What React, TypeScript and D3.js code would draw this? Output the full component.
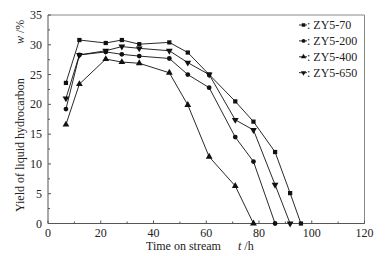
import React from "react";
import * as d3 from "d3";

const W = 385;
const H = 256;

const xTicks = [0, 20, 40, 60, 80, 100, 120];
const yTicks = [0, 5, 10, 15, 20, 25, 30, 35];

const seriesNames = ["ZY5-70", "ZY5-200", "ZY5-400", "ZY5-650"];

const x70 = [6.8, 11.9, 21.9, 28.0, 34.6, 46.0, 53.0, 61.1, 71.0, 77.9, 86.1, 91.8, 95.9];
const y70 = [23.6, 30.8, 30.3, 30.8, 30.1, 30.4, 28.7, 25.0, 20.5, 17.1, 12.0, 5.1, 0];

const x200 = [6.8, 11.9, 21.9, 28.0, 34.6, 46.0, 53.0, 61.1, 71.0, 77.9, 86.1];
const y200 = [19.2, 28.3, 28.8, 28.4, 28.1, 27.7, 25.0, 22.8, 14.5, 10.4, 0];

const x400 = [6.8, 11.9, 21.9, 28.0, 34.6, 46.0, 53.0, 61.1, 71.0, 77.9];
const y400 = [16.6, 23.4, 27.6, 27.1, 26.9, 25.3, 19.9, 11.2, 6.3, 0];

const x650 = [6.8, 11.9, 21.9, 28.0, 34.6, 46.0, 53.0, 61.1, 71.0, 77.9, 86.1, 91.8];
const y650 = [21.0, 28.3, 29.0, 29.7, 29.4, 29.0, 27.0, 25.0, 17.4, 15.7, 6.5, 0];

const seriesX = [x70, x200, x400, x650];
const seriesY = [y70, y200, y400, y650];
const symbols = [d3.symbolSquare, d3.symbolCircle, d3.symbolTriangle, d3.symbolTriangle];
const symbolSizes = [18, 18, 20, 20];
const symbolRot = [0, 0, 0, 180];

const FONT = "Liberation Serif, DejaVu Serif, serif";

export default function App() {
  const x = d3.scaleLinear().domain([0, 120]).range([48, 364.5]);
  const y = d3.scaleLinear().domain([0, 35]).range([223.5, 15]);
  const line = d3
    .line<[number, number]>()
    .x((d) => x(d[0]))
    .y((d) => y(d[1]));
  const xMinor = d3.range(10, 120, 20);
  const yMinor = d3.range(2.5, 35, 5);
  const axisColor = "#555";
  const frameColor = "#888";
  const ts = { fontFamily: FONT, fontSize: "12px" } as React.CSSProperties;

  return (
    <svg width={W} height={H} style={{ position: "absolute", left: 0, top: 0, background: "#fff", fontFamily: FONT }}>
      <rect x={0} y={0} width={W} height={H} fill="#fff" />
      {/* frame */}
      <line x1={x(0)} x2={x(120)} y1={y(35)} y2={y(35)} stroke={frameColor} strokeWidth={1} />
      <line x1={x(120)} x2={x(120)} y1={y(35)} y2={y(0)} stroke={frameColor} strokeWidth={1} />
      {/* axes */}
      <line x1={x(0)} x2={x(120)} y1={y(0)} y2={y(0)} stroke={axisColor} strokeWidth={1} />
      <line x1={x(0)} x2={x(0)} y1={y(35)} y2={y(0)} stroke={axisColor} strokeWidth={1} />
      {xTicks.map((t) => (
        <g key={"xt" + t}>
          <line x1={x(t)} x2={x(t)} y1={y(0)} y2={y(0) - 3} stroke={axisColor} />
          <text x={x(t)} y={236.5} style={ts} textAnchor="middle" fill="#222">
            {t}
          </text>
        </g>
      ))}
      {xMinor.map((t) => (
        <line key={"xm" + t} x1={x(t)} x2={x(t)} y1={y(0)} y2={y(0) - 2} stroke={axisColor} />
      ))}
      {yTicks.map((t) => (
        <g key={"yt" + t}>
          <line x1={x(0)} x2={x(0) + 3} y1={y(t)} y2={y(t)} stroke={axisColor} />
          <text x={42} y={y(t) + 4} style={ts} textAnchor="end" fill="#222">
            {t}
          </text>
        </g>
      ))}
      {yMinor.map((t) => (
        <line key={"ym" + t} x1={x(0)} x2={x(0) + 2} y1={y(t)} y2={y(t)} stroke={axisColor} />
      ))}
      {/* axis labels */}
      <text x={146} y={249.5} style={ts} fill="#222">
        Time on stream
      </text>
      <text x={238} y={249.5} style={ts} fill="#222">
        <tspan fontStyle="italic">t</tspan> /h
      </text>
      <text transform="translate(24,212) rotate(-90)" style={ts} fill="#222">
        Yield of liquid hydrocarbon
      </text>
      <text transform="translate(24,44) rotate(-90)" style={ts} fill="#222">
        <tspan fontStyle="italic">w</tspan> /%
      </text>
      {/* series */}
      {seriesNames.map((name, i) => {
        const pts = seriesX[i].map((xv, j) => [xv, seriesY[i][j]] as [number, number]);
        const sym = d3.symbol().type(symbols[i]).size(symbolSizes[i])();
        return (
          <g key={name}>
            <path d={line(pts) || ""} fill="none" stroke="#111" strokeWidth={0.9} />
            {pts.map((p, j) => (
              <path
                key={j}
                d={sym || ""}
                transform={`translate(${x(p[0])},${y(p[1])}) rotate(${symbolRot[i]})`}
                fill="#111"
              />
            ))}
          </g>
        );
      })}
      {/* legend */}
      {seriesNames.map((name, i) => {
        const cy = 25 + i * 15.9;
        const sym = d3.symbol().type(symbols[i]).size(12)();
        return (
          <g key={"lg" + name}>
            <line x1={299} x2={307} y1={cy} y2={cy} stroke="#111" strokeWidth={0.9} />
            <path d={sym || ""} transform={`translate(303.5,${cy}) rotate(${symbolRot[i]})`} fill="#111" />
            <text x={307} y={cy + 4} style={ts} fill="#222">
              : {name}
            </text>
          </g>
        );
      })}
    </svg>
  );
}
